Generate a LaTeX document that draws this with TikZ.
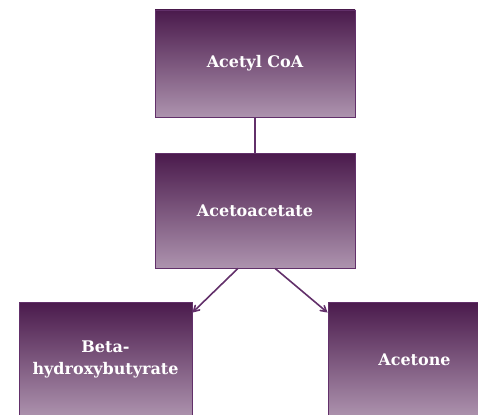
\documentclass[tikz,border=0pt]{standalone}
\usepackage{fontspec}
\setmainfont{DejaVu Serif}
\usepackage{tikz}
\usetikzlibrary{calc}
\usetikzlibrary{arrows}
\definecolor{plumdark}{HTML}{4A1A4C}
\definecolor{plumlight}{HTML}{AD93AE}
\definecolor{plumline}{HTML}{62306A}
\tikzset{
  stage/.style={draw=plumline, line width=0.8pt, top color=plumdark, bottom color=plumlight,
    text=white, font=\fontsize{16}{22}\selectfont\bfseries, align=center, inner sep=0pt},
  link/.style={draw=plumline, line width=1.6pt}
}

\begin{document}
\begin{tikzpicture}[x=1pt,y=-1pt]
\useasboundingbox (0,0) rectangle (478,414);
\coordinate (TOP) at (255,63.5); \coordinate (MID) at (255,210.5);
\coordinate (BL) at (105.5,359.5); \coordinate (BR) at (414.5,359.5);

\node (acetyl) at (TOP) [stage, minimum width=200pt, minimum height=107pt] {Acetyl CoA};
\node (acetoacetate) at (MID) [stage, minimum width=200pt, minimum height=115pt] {Acetoacetate};
\node (hydroxy) at (BL) [stage, minimum width=173pt, minimum height=115pt] {Beta-\\hydroxybutyrate};
\node (acetone) at (BR) [stage, minimum width=173pt, minimum height=115pt] {Acetone};

\draw [link] (acetyl) -- (acetoacetate);
\draw [link, ->, >=angle 60] ($(acetoacetate.south west)!0.415!(acetoacetate.south east)$) -- ($(hydroxy.north east)+(0,11)$);
\draw [link, ->, >=angle 60] ($(acetoacetate.south west)!0.6!(acetoacetate.south east)$) -- ($(acetone.north west)+(0,11)$);

\end{tikzpicture}
\end{document}
